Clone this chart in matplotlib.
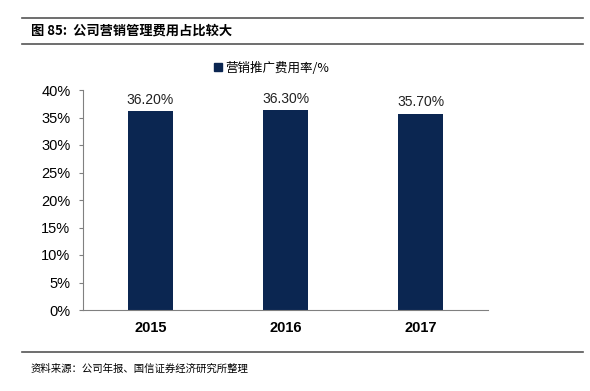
import matplotlib
matplotlib.use("Agg")
import matplotlib.pyplot as plt
from matplotlib.lines import Line2D
from matplotlib.patches import Patch

plt.rcParams['font.family'] = ['Liberation Sans', 'Noto Sans CJK SC', 'DejaVu Sans']

years = ['2015', '2016', '2017']
rates = [36.2, 36.3, 35.7]
yticks = [0, 5, 10, 15, 20, 25, 30, 35, 40]
bar_color = '#0b2651'

fig = plt.figure(figsize=(5.9, 3.91), dpi=100)
ax = fig.add_axes([83/590, 1-310/391, 405/590, 220/391])
x = range(len(years))
ax.bar(x, rates, width=0.33, color=bar_color)
for i, v in zip(x, rates):
    ax.text(i, v + 0.8, f'{v:.2f}%', ha='center', va='bottom', fontsize=10, color='#222222')
ax.set_xlim(-0.5, 2.5)
ax.set_ylim(0, 40)
ax.set_yticks(yticks)
ax.set_yticklabels([f'{t}%' for t in yticks], fontsize=10.5)
ax.set_xticks(list(x))
ax.set_xticklabels(years, fontsize=10.5, fontweight='bold')
for s in ['top', 'right']:
    ax.spines[s].set_visible(False)
for s in ['left', 'bottom']:
    ax.spines[s].set_color('#808080')
ax.tick_params(axis='y', length=3, color='#808080', pad=6)
ax.tick_params(axis='x', length=0, pad=8)

leg = fig.legend(handles=[Patch(color=bar_color)], labels=['营销推广费用率/%'],
                 loc='center left', bbox_to_anchor=(203/590, 1-68/391), frameon=False,
                 prop={'family': ['Noto Sans CJK SC'], 'size': 9},
                 handlelength=0.6, handleheight=0.6, handletextpad=0.3)

fig.add_artist(Line2D([22/590, 583/590], [1-18/391, 1-18/391], color='#555555', lw=1.2))
fig.add_artist(Line2D([22/590, 583/590], [1-44/391, 1-44/391], color='#555555', lw=1.2))
fig.add_artist(Line2D([22/590, 583/590], [1-352/391, 1-352/391], color='#555555', lw=1.2))
fig.text(31/590, 1-31/391, '图 85:  公司营销管理费用占比较大', fontsize=9.5, fontweight='bold',
         va='center', ha='left', family=['Noto Sans CJK SC'])
fig.text(31/590, 1-369/391, '资料来源：公司年报、国信证券经济研究所整理', fontsize=7.5,
         va='center', ha='left', family=['Noto Sans CJK SC'])

fig.savefig('out.png', dpi=100)
